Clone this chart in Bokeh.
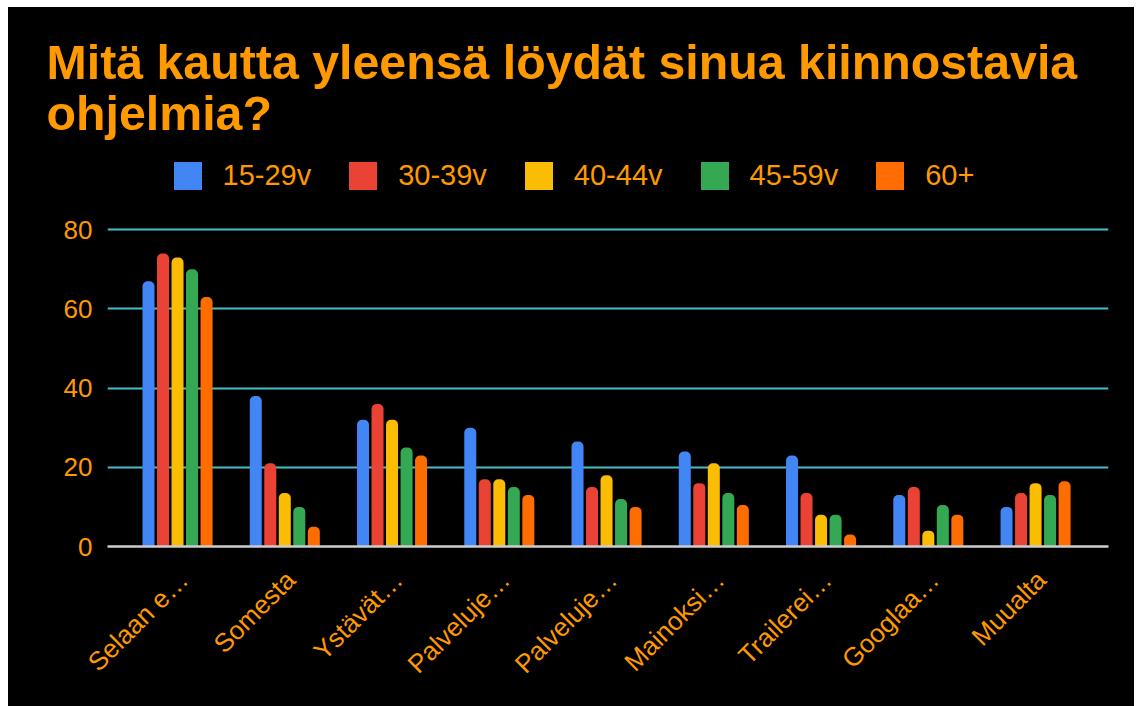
import math
from bokeh.plotting import figure
from bokeh.models import (Range1d, FixedTicker, Legend, LegendItem, Title,
                          ColumnDataSource, VBar)
from bokeh.transform import dodge
from bokeh.embed import file_html
from bokeh.resources import INLINE

# ---- data ----
categories = ["Selaan e…", "Somesta", "Ystävät…", "Palveluje…", "Palveluje…",
              "Mainoksi…", "Trailerei…", "Googlaa…", "Muualta"]
series_names = ["15-29v", "30-39v", "40-44v", "45-59v", "60+"]
v15_29 = [67, 38, 32, 30, 26.5, 24, 23, 13, 10]
v30_39 = [74, 21, 36, 17, 15, 16, 13.5, 15, 13.5]
v40_44 = [73, 13.5, 32, 17, 18, 21, 8, 4, 16]
v45_59 = [70, 10, 25, 15, 12, 13.5, 8, 10.5, 13]
v60 = [63, 5, 23, 13, 10, 10.5, 3, 8, 16.5]
y_ticks = [0, 20, 40, 60, 80]
title_line1 = "Mitä kautta yleensä löydät sinua kiinnostavia"
title_line2 = "ohjelmia?"

colors = ["#4285F4", "#EA4335", "#FBBC04", "#34A853", "#FF6D01"]
ORANGE = "#FF9900"
FONT = "Liberation Sans"

xs = list(range(len(categories)))
source = ColumnDataSource(dict(x=xs, s0=v15_29, s1=v30_39, s2=v40_44,
                               s3=v45_59, s4=v60))

p = figure(width=1126, height=699, output_backend="svg", toolbar_location=None,
           title=None,
           x_range=Range1d(-0.653, 8.68), y_range=Range1d(0, 99.75),
           min_border_left=99, min_border_right=26, min_border_top=143,
           min_border_bottom=160)
p.margin = (7, 0, 0, 8)
p.styles = {"background-color": "#000000"}
p.background_fill_color = "black"
p.border_fill_color = "black"
p.outline_line_color = None
p.outline_line_alpha = 0

pitch = 0.1353
bar_w = 0.112
extra = {}
if "border_radius" in VBar.properties():
    extra["border_radius"] = (5, 5, 0, 0)

renderers = []
for k in range(5):
    off = (k - 2) * pitch
    r = p.vbar(x=dodge("x", off, range=p.x_range), top="s%d" % k, width=bar_w,
               bottom=0, source=source, fill_color=colors[k], line_color=None,
               **extra)
    renderers.append(r)

# axes
shift = 0.055
p.xaxis.ticker = FixedTicker(ticks=[i + shift for i in xs])
p.xaxis.major_label_overrides = {i + shift: c for i, c in zip(xs, categories)}
p.xaxis.major_label_orientation = math.pi / 4
p.xaxis.major_label_text_color = ORANGE
p.xaxis.major_label_text_font = FONT
p.xaxis.major_label_text_font_size = "26px"
p.xaxis.major_label_standoff = 29
p.xaxis.major_tick_line_color = None
p.xaxis.minor_tick_line_color = None
p.xaxis.major_tick_out = 0
p.xaxis.axis_line_color = "#CCCCCC"
p.xaxis.axis_line_width = 2.5

p.yaxis.ticker = FixedTicker(ticks=y_ticks)
p.yaxis.major_label_text_color = ORANGE
p.yaxis.major_label_text_font = FONT
p.yaxis.major_label_text_font_size = "26px"
p.yaxis.major_label_standoff = 15
p.yaxis.major_tick_line_color = None
p.yaxis.minor_tick_line_color = None
p.yaxis.major_tick_out = 0
p.yaxis.axis_line_color = None

p.xgrid.grid_line_color = None
p.ygrid.grid_line_color = "#45BFC9"
p.ygrid.grid_line_width = 2

legend = Legend(items=[LegendItem(label=n, renderers=[r])
                       for n, r in zip(series_names, renderers)],
                orientation="horizontal", location=(62.5, 353),
                glyph_width=35, glyph_height=35, label_standoff=18,
                spacing=34, padding=0, margin=0, border_line_color=None,
                background_fill_alpha=0, label_text_color=ORANGE,
                label_text_font=FONT, label_text_font_size="29px")
p.add_layout(legend, "center")

# titles: closest to the plot first
p.add_layout(Title(text=title_line2, align="left", offset=-61, standoff=22.6,
                   text_font=FONT, text_font_size="48.3px",
                   text_font_style="bold", text_color=ORANGE), "above")
p.add_layout(Title(text=title_line1, align="left", offset=-61, standoff=-33.8,
                   text_font=FONT, text_font_size="48.3px",
                   text_font_style="bold", text_color=ORANGE), "above")
p.add_layout(Title(text=" ", align="left", standoff=30,
                   text_font=FONT, text_font_size="10px",
                   text_color="black"), "above")

open("out.html", "w").write(file_html(p, INLINE))
